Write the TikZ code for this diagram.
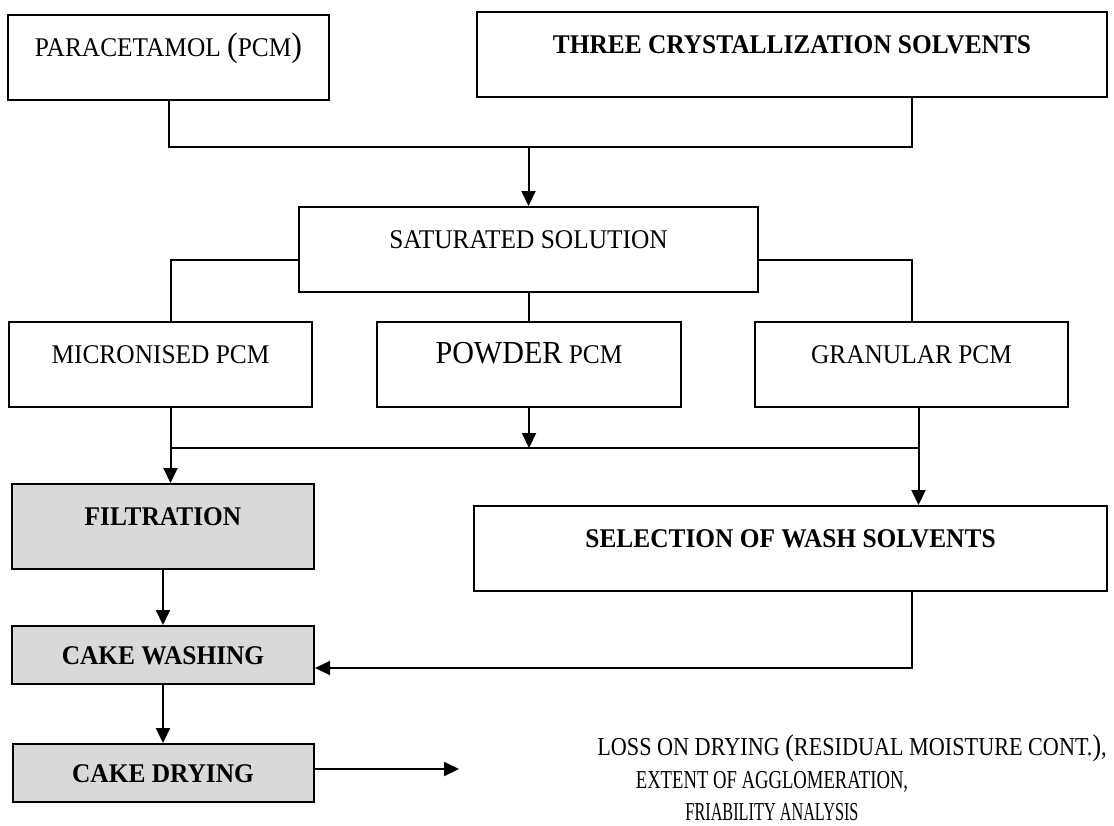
\documentclass[tikz,border=0pt]{standalone}
\usepackage{fontspec}
\usepackage{graphicx}
\setmainfont{Liberation Serif}[FakeStretch=0.94]
\usetikzlibrary{arrows.meta}

\newcommand{\bigparen}[1]{{\fontsize{17}{17}\selectfont #1}}

\begin{document}
\begin{tikzpicture}[
  x=0.5pt, y=-0.5pt,
  box/.style={rectangle, draw=black, line width=1pt, inner sep=0pt, align=center,
              minimum height=42.5pt, text height=9pt, text depth=10pt,
              font=\fontsize{13.5}{16}\selectfont},
  boldbox/.style={box, font=\fontsize{13.5}{16}\selectfont\bfseries},
  stage/.style={boldbox, fill=black!15},
  low/.style={minimum height=29pt, text depth=0pt},
  link/.style={line width=1pt},
  arrow/.style={link, -{Triangle[length=7.5pt, width=7pt]}}
]
\useasboundingbox (0,0) rectangle (1114,825);

% starting materials
\node[box, minimum width=160.5pt] (pcm) at (168.5,57.5) {PARACETAMOL \bigparen{(}PCM\bigparen{)}};
\node[boldbox, minimum width=315pt] (solv) at (792,54) {THREE CRYSTALLIZATION SOLVENTS};
\node[box, minimum width=229.5pt] (sat) at (528.5,249.5) {SATURATED SOLUTION};

% three feed grades
\node[box, minimum width=151.5pt] (micro) at (160.5,364.5) {MICRONISED PCM};
\node[box, minimum width=152pt] (powder) at (529,364.5) {{\fontsize{16}{16}\selectfont POWDER} PCM};
\node[box, minimum width=156.5pt] (gran) at (911.5,364.5) {GRANULAR PCM};

% isolation steps
\node[stage, minimum width=151pt] (filt) at (163,526.5) {FILTRATION};
\node[boldbox, minimum width=316.5pt] (sel) at (790.5,548.5) {SELECTION OF WASH SOLVENTS};
\node[stage, low, minimum width=151pt] (wash) at (163,655) {CAKE WASHING};
\node[stage, low, minimum width=150.5pt] (dry) at (163,773) {CAKE DRYING};
\node[align=center, font=\fontsize{12.9}{16.25}\selectfont] (tests) at (772,778)
  {\hspace*{80pt}\scalebox{0.915}[1]{LOSS ON DRYING {\fontsize{15}{15}\selectfont(}RESIDUAL MOISTURE CONT.{\fontsize{15}{15}\selectfont)},}\\
   \scalebox{0.77}[1]{EXTENT OF AGGLOMERATION,}\\
   \scalebox{0.67}[1]{FRIABILITY ANALYSIS}};

\coordinate (bus1) at (0,147);
\coordinate (bus2) at (0,448);
\coordinate (out) at (459,769);
\coordinate (mtop) at ([xshift=5pt]micro.north);
\coordinate (mdrop) at ([xshift=5pt]micro.south);
\coordinate (gdrop) at ([xshift=3.5pt]gran.south);

% feeds into the saturated solution
\draw[link] (pcm.south) -- (pcm.south |- bus1) -- (gran.north |- bus1) -- (solv.south -| gran.north);
\draw[arrow] (sat.north |- bus1) -- (sat.north);

% solution split over the grades
\draw[link] ([yshift=-5pt]sat.west) -| (mtop);
\draw[link] ([yshift=-5pt]sat.east) -| (gran.north);
\draw[link] (sat.south) -- (sat.south |- powder.north);

% grades collected
\draw[arrow] (mdrop) -- (mdrop |- filt.north);
\draw[link] (mdrop |- bus2) -- (gdrop |- bus2);
\draw[arrow] (powder.south) -- (powder.south |- bus2);
\draw[arrow] (gdrop) -- (gdrop |- sel.north);

% cake handling
\draw[arrow] (filt) -- (wash);
\draw[arrow] (wash) -- (dry);
\draw[arrow] (sel.south -| gran.north) |- ([yshift=-6.5pt]wash.east);
\draw[arrow] (dry.east |- out) -- (out);
\end{tikzpicture}
\end{document}
